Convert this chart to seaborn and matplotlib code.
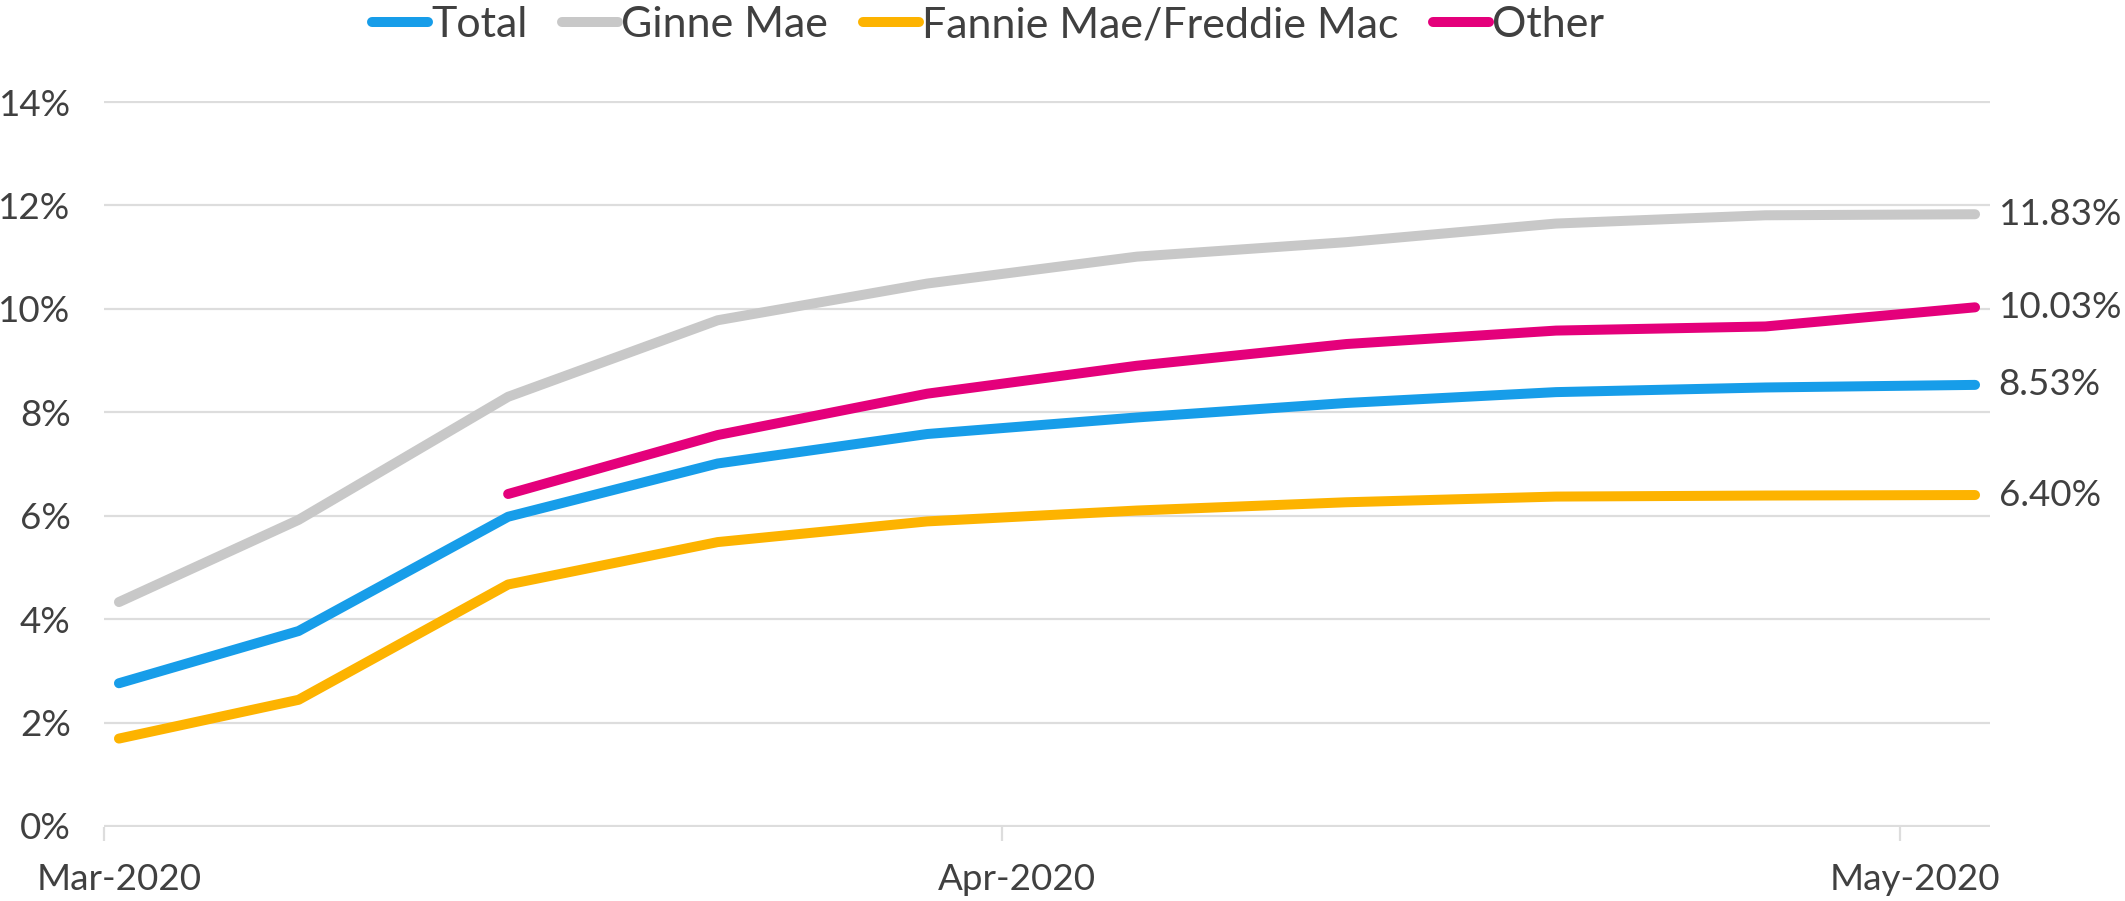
import numpy as np
import pandas as pd
import matplotlib
matplotlib.use("Agg")
import matplotlib.pyplot as plt
import matplotlib.dates as mdates
from matplotlib.ticker import FixedLocator, FuncFormatter
import seaborn as sns

# ---------------- data ----------------
dates = ["2020-03-30", "2020-04-05", "2020-04-12", "2020-04-19", "2020-04-26",
         "2020-05-03", "2020-05-10", "2020-05-17", "2020-05-24", "2020-05-31"]
total = [2.76, 3.77, 5.98, 7.01, 7.58, 7.90, 8.18, 8.39, 8.48, 8.53]
ginnie = [4.33, 5.92, 8.30, 9.78, 10.49, 11.01, 11.29, 11.65, 11.81, 11.83]
gse = [1.69, 2.44, 4.67, 5.49, 5.89, 6.10, 6.26, 6.37, 6.39, 6.40]
other = [np.nan, np.nan, 6.42, 7.56, 8.36, 8.90, 9.32, 9.58, 9.66, 10.03]
series_names = ["Total", "Ginne Mae", "Fannie Mae/Freddie Mac", "Other"]
end_labels = ["8.53%", "11.83%", "6.40%", "10.03%"]
colors = ["#179DE9", "#C8C8C8", "#FDB300", "#E4007B"]
tick_dates = ["2020-03-30", "2020-04-29", "2020-05-29"]
tick_labels = ["Mar-2020", "Apr-2020", "May-2020"]
yticks = [0, 2, 4, 6, 8, 10, 12, 14]

# ---------------- build long table ----------------
half_day = pd.Timedelta(hours=12)
x = pd.to_datetime(dates) + half_day   # Excel places points mid-day
frames = []
for name, vals in zip(series_names, [total, ginnie, gse, other]):
    frames.append(pd.DataFrame({"date": x, "value": vals, "series": name}))
df = pd.concat(frames, ignore_index=True).dropna()

# ---------------- style ----------------
sns.set_theme(style="white")
plt.rcParams["font.family"] = ["Lato", "DejaVu Sans"]
text_color = "#404040"
grid_color = "#DDDDDD"

W, H = 2125, 901
fig = plt.figure(figsize=(W / 100, H / 100), dpi=100)
ax = fig.add_axes([104 / W, (H - 827) / H, (1990 - 104) / W, (827 - 101) / H])

palette = dict(zip(series_names, colors))
sns.lineplot(data=df, x="date", y="value", hue="series", hue_order=series_names,
             palette=palette, linewidth=7.2, ax=ax, solid_capstyle="round",
             legend=True, zorder=3)

# axes limits
ax.set_xlim(pd.Timestamp("2020-03-30"), pd.Timestamp("2020-06-01"))
ax.set_ylim(-0.02, 14.02)

# y axis
ax.set_yticks(yticks)
ax.yaxis.set_major_formatter(FuncFormatter(lambda v, p: f"{v:.0f}%"))
ax.tick_params(axis="y", length=0, pad=24, labelsize=26.5, labelcolor=text_color)
ax.yaxis.grid(True, color=grid_color, linewidth=1.6, zorder=0)
ax.xaxis.grid(False)

# x axis: tick marks at boundaries, labels at mid-day
tick_num = mdates.date2num(pd.to_datetime(tick_dates))
ax.xaxis.set_minor_locator(FixedLocator(tick_num))
ax.set_xticks(tick_num + 0.5)
ax.set_xticklabels(tick_labels)
ax.tick_params(axis="x", which="major", length=0, pad=26, labelsize=26.5,
               labelcolor=text_color)
ax.tick_params(axis="x", which="minor", length=10, width=1.6, color=grid_color,
               direction="out", bottom=True)
ax.set_xlabel("")
ax.set_ylabel("")
for s in ax.spines.values():
    s.set_visible(False)

# end labels
for name, lab, vals in zip(series_names, end_labels, [total, ginnie, gse, other]):
    ax.annotate(lab, xy=(x[-1], vals[-1]), xytext=(17, 0), textcoords="offset points",
                ha="left", va="center", fontsize=26.5, color=text_color,
                annotation_clip=False)

# legend
handles, labels = ax.get_legend_handles_labels()
ax.get_legend().remove()
for h in handles:
    h.set_linewidth(7.2)
    h.set_solid_capstyle("round")
fig.legend(handles, labels, loc="center", bbox_to_anchor=(0.465, 0.972), ncol=4,
           frameon=False, fontsize=31, handlelength=1.3, handletextpad=0.08,
           columnspacing=0.8, borderpad=0, labelcolor=text_color)

fig.savefig("out.png", dpi=100)
